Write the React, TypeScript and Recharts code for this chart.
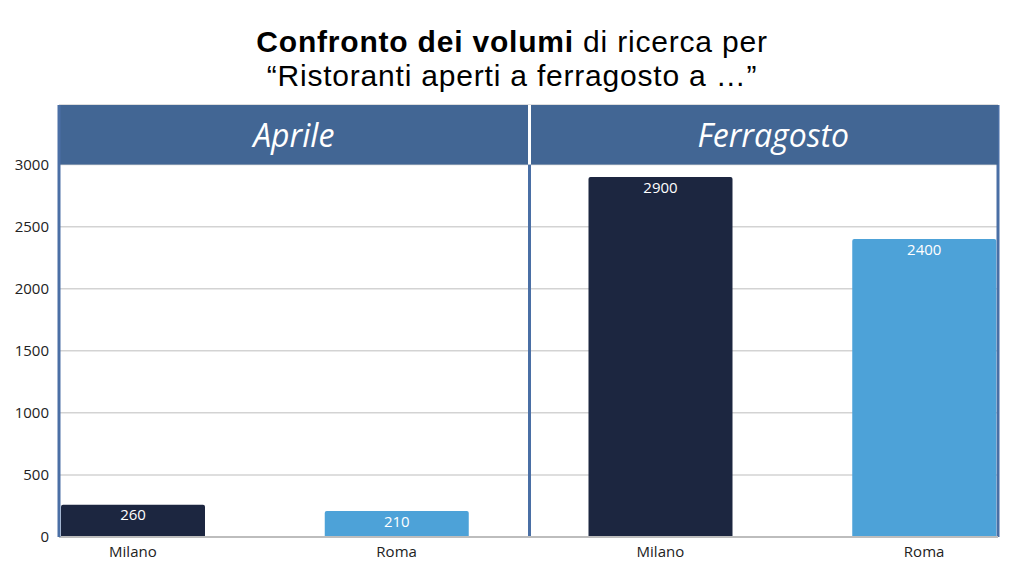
import React from 'react';
import { BarChart, Bar, XAxis, YAxis, CartesianGrid, ReferenceArea, LabelList, Cell } from 'recharts';

const categories = ['Aprile-Milano', 'Aprile-Roma', 'Ferragosto-Milano', 'Ferragosto-Roma'];
const cities = ['Milano', 'Roma', 'Milano', 'Roma'];
const periods = ['Aprile', 'Aprile', 'Ferragosto', 'Ferragosto'];
const volumes = [260, 210, 2900, 2400];
const yTicks = [0, 500, 1000, 1500, 2000, 2500, 3000];
const panelTitles = ['Aprile', 'Ferragosto'];
const cityColors: Record<string, string> = { Milano: '#1C2640', Roma: '#4DA2D8' };

const data = categories.map((key, i) => ({ key, city: cities[i], period: periods[i], volume: volumes[i] }));

const FONT = "'Open Sans', 'Noto Sans', sans-serif";
const TITLE_FONT = "'Liberation Sans', Arial, sans-serif";
const CHART_W = 1008;
const CHART_H = 560;
const MARGIN = { top: 97, right: 18, bottom: 1, left: 0 };
const Y_AXIS_W = 51;
const PLOT_LEFT = MARGIN.left + Y_AXIS_W;
const PLOT_RIGHT = CHART_W - MARGIN.right;
const FRAME = '#4A6FA5';
const HEADER = '#426694';

const headerShape = (title: string, divider: boolean, textShift: number) => (props: any) => {
  const { x, y, width, height } = props;
  const vx1 = Math.max(x, PLOT_LEFT);
  const vx2 = Math.min(x + width, PLOT_RIGHT);
  const cx = (vx1 + vx2) / 2 + textShift;
  return (
    <g>
      <rect x={vx1} y={y} width={vx2 - vx1} height={height} fill={HEADER} />
      {divider && <line x1={vx1 + 1} x2={vx1 + 1} y1={y} y2={y + height} stroke="#ffffff" strokeWidth={3} />}
      <text x={cx} y={y + height / 2} textAnchor="middle" dominantBaseline="central" fill="#ffffff"
        fontFamily={FONT} fontSize={32} fontStyle="italic">{title}</text>
    </g>
  );
};

const frameShape = (props: any) => {
  const { x, y, height } = props;
  return (
    <g>
      <line x1={x + 1} x2={x + 1} y1={y} y2={y + height} stroke={FRAME} strokeWidth={3} />
      <line x1={PLOT_RIGHT} x2={PLOT_RIGHT} y1={y} y2={y + height} stroke={FRAME} strokeWidth={3} />
    </g>
  );
};

export default function App() {
  return (
    <div style={{ position: 'relative', width: CHART_W, height: CHART_H, fontFamily: FONT }}>
      <div style={{
        position: 'absolute', left: 0, top: 17, width: CHART_W, textAlign: 'center', color: '#000',
        fontFamily: TITLE_FONT, fontSize: 30, lineHeight: '34px', letterSpacing: '0.8px', whiteSpace: 'nowrap', zIndex: 2,
      }}>
        <b style={{ fontWeight: 700 }}>Confronto dei volumi</b> di ricerca per<br />“Ristoranti aperti a ferragosto a …”
      </div>
      <BarChart width={CHART_W} height={CHART_H} data={data} margin={MARGIN} barSize={144}>
        <CartesianGrid vertical={false} stroke="#d3d3d3" strokeWidth={1.5} />
        <XAxis dataKey="key" padding={{ left: -58, right: -58 }} tickFormatter={(v: string) => cities[categories.indexOf(v)]}
          axisLine={{ stroke: '#bdbdbd', strokeWidth: 2 }} tickLine={false} interval={0}
          tick={{ fill: '#222', fontSize: 15, fontFamily: FONT }} tickMargin={3} height={30} />
        <YAxis domain={[0, 3480]} ticks={yTicks} width={Y_AXIS_W} tickLine={false} tickMargin={4}
          axisLine={{ stroke: FRAME, strokeWidth: 3 }} tick={{ fill: '#222', fontSize: 15, fontFamily: FONT }} allowDataOverflow />
        <ReferenceArea x1={categories[2]} x2={categories[3]} y1={0} y2={3480} ifOverflow="hidden" shape={frameShape} />
        <ReferenceArea x1={categories[0]} x2={categories[1]} y1={3000} y2={3480} ifOverflow="hidden" shape={headerShape(panelTitles[0], false, 0)} />
        <ReferenceArea x1={categories[2]} x2={categories[3]} y1={3000} y2={3480} ifOverflow="hidden" shape={headerShape(panelTitles[1], true, 10)} />
        <Bar dataKey="volume" isAnimationActive={false} radius={[2, 2, 0, 0]}>
          {data.map((d) => <Cell key={d.key} fill={cityColors[d.city]} />)}
          <LabelList dataKey="volume" position="insideTop" offset={5} fill="#ffffff" fontSize={15} fontFamily={FONT} />
        </Bar>
      </BarChart>
    </div>
  );
}
